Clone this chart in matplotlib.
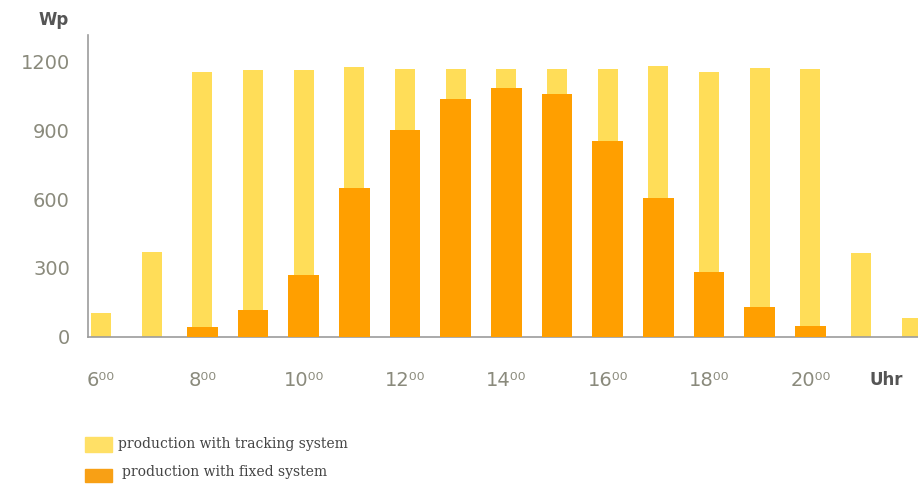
import matplotlib.pyplot as plt
from matplotlib.patches import Rectangle

# Stundenwerte (Wp) von 6 bis 22 Uhr
hours = list(range(6, 23))
tracking = [103, 369, 1156, 1165, 1165, 1178, 1169, 1170, 1170, 1170, 1170, 1182, 1156, 1173, 1169, 365, 80]
fixed = [0, 0, 42, 116, 269, 649, 902, 1038, 1086, 1060, 855, 605, 282, 129, 46, 0, 0]

tick_hours = [6, 8, 10, 12, 14, 16, 18, 20]
tick_labels = [f"{h}\u2070\u2070" for h in tick_hours]
y_ticks = [0, 300, 600, 900, 1200]

c_track = '#FFDD58'
c_fixed = '#FF9F00'
c_text = '#8A8A7C'
c_axis = '#9C9C9C'

fig = plt.figure(figsize=(9.18, 4.88), dpi=100)
ax = fig.add_axes([88 / 918, 1 - 336.5 / 488, 830 / 918, 301.5 / 488])

ax.bar(hours, tracking, width=0.395, color=c_track, zorder=2)
ax.bar(hours, fixed, width=0.61, color=c_fixed, zorder=3)

ax.set_xlim(5.743, 22.124)
ax.set_ylim(0, 1318)

ax.set_xticks(tick_hours)
ax.set_xticklabels(tick_labels)
ax.set_yticks(y_ticks)
ax.tick_params(axis='both', length=0, colors=c_text, labelsize=14)
ax.tick_params(axis='y', pad=13)
ax.tick_params(axis='x', pad=25)

for side in ['top', 'right']:
    ax.spines[side].set_visible(False)
for side in ['left', 'bottom']:
    ax.spines[side].set_color(c_axis)
    ax.spines[side].set_linewidth(1.2)

# Achsenbeschriftungen
fig.text(54 / 918, 1 - 20 / 488, 'Wp', ha='center', va='center',
         fontsize=12, fontweight='bold', color='#555555')
fig.text(886 / 918, 1 - 380 / 488, 'Uhr', ha='center', va='center',
         fontsize=12, fontweight='bold', color='#555555')

# Legende
fig.patches.append(Rectangle((85 / 918, 1 - 452 / 488), 27 / 918, 15 / 488,
                             transform=fig.transFigure, color='#FFE066'))
fig.patches.append(Rectangle((85 / 918, 1 - 482 / 488), 27 / 918, 13 / 488,
                             transform=fig.transFigure, color='#F8A015'))
fig.text(118 / 918, 1 - 444 / 488, 'production with tracking system', ha='left', va='center',
         fontsize=10, family='DejaVu Serif', color='#444444')
fig.text(122 / 918, 1 - 472 / 488, 'production with fixed system', ha='left', va='center',
         fontsize=10, family='DejaVu Serif', color='#444444')

fig.savefig('out.png', dpi=100)
plt.close(fig)
